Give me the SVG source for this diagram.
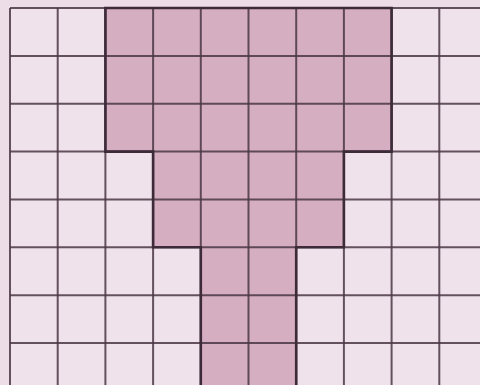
<svg xmlns="http://www.w3.org/2000/svg" width="480" height="385" viewBox="0 0 480 385">
<defs>
<style>
.bg{fill:#ecdde6}
.light{fill:#efe2eb}
.dark{fill:#d5afc1}
.grid{stroke:#4a3745;stroke-width:2;fill:none;stroke-opacity:0.85}
.outline{stroke:#3e2b3a;stroke-width:2.6;fill:none}
</style>
</defs>
<rect class="bg" x="0" y="0" width="480" height="385"/>
<g id="cells">
<rect class="light" x="10" y="8" width="470" height="377"/>
<path id="shape" class="dark" d="M105.4,8 H391.6 V151.6 H343.9 V247.3 H153.1 V151.6 H105.4 Z M200.8,247.3 H296.2 V385 H200.8 Z"/>
</g>
<g id="grid" class="grid">
<path d="M10,8 V385 M57.7,8 V385 M105.4,8 V385 M153.1,8 V385 M200.8,8 V385 M248.5,8 V385 M296.2,8 V385 M343.9,8 V385 M391.6,8 V385 M439.3,8 V385"/>
<path d="M10,8 H480 M10,55.9 H480 M10,103.7 H480 M10,151.6 H480 M10,199.4 H480 M10,247.3 H480 M10,295.2 H480 M10,343 H480"/>
</g>
<g id="outline" class="outline">
<path d="M200.8,385 V247.3 H153.1 V151.6 H105.4 V8 H391.6 V151.6 H343.9 V247.3 H296.2 V385"/>
</g>
</svg>
